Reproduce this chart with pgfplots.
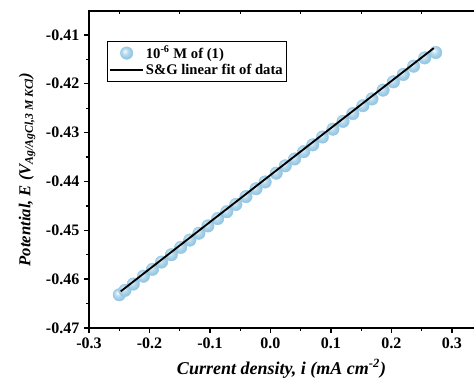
\documentclass[border=0pt]{standalone}
\usepackage{pgfplots}
\pgfplotsset{compat=1.18}
\usepackage{fontspec}
\setmainfont{Liberation Serif}
\definecolor{ballblue}{RGB}{150,200,228}
\makeatletter
\pgfdeclareradialshading[tikz@ball]{ball}{\pgfqpoint{-8bp}{8bp}}{%
 color(0bp)=(tikz@ball!0!white);
 color(6bp)=(tikz@ball!40!white);
 color(14bp)=(tikz@ball!75!white);
 color(24bp)=(tikz@ball);
 color(50bp)=(tikz@ball!92!black)}
\makeatother
\pgfplotsset{
 ballleg/.style={legend image code/.code={\draw[mark repeat=2,mark phase=2,##1] plot coordinates {(0cm,0cm) (0.43cm,0cm) (0.86cm,0cm)};}},
 lineleg/.style={legend image code/.code={\draw[##1] (0cm,0cm) -- (0.86cm,0cm);}},
}
\begin{document}
\begin{tikzpicture}
\begin{axis}[
 name=main,
 scale only axis,
 clip mode=individual,
 width=288.75pt, height=237.75pt,
 xmin=-0.3, xmax=0.3365,
 ymin=-0.47, ymax=-0.4051,
 axis x line*=bottom, axis y line*=left,
 axis line style={line width=1.2pt, line cap=rect},
 xtick={-0.3,-0.2,-0.1,0,0.1,0.2,0.3},
 ytick={-0.47,-0.46,-0.45,-0.44,-0.43,-0.42,-0.41},
 minor tick num=1,
 tick align=outside,
 major tick length=3.75pt, minor tick length=2.25pt,
 every tick/.style={line width=1pt, black},
 /pgf/number format/assume math mode=true,
 xticklabel style={/pgf/number format/.cd, fixed, fixed zerofill, precision=1},
 yticklabel style={/pgf/number format/.cd, fixed, fixed zerofill, precision=2},
 tick label style={font=\fontsize{12}{14}\selectfont\bfseries},
 xlabel={Current density, \textit{i} (mA cm\textsuperscript{-2})},
 ylabel={Potential, \textit{E} (V\textsubscript{Ag/AgCl,3 M KCl})},
 xlabel style={font=\fontsize{13.5}{15}\selectfont\bfseries\itshape, yshift=-1pt},
 ylabel style={font=\fontsize{12.5}{14}\selectfont\bfseries\itshape, yshift=1pt},
 legend style={at={(axis description cs:0,1)}, anchor=north west,
   xshift=13.5pt, yshift=-22.5pt, draw=black, line width=0.6pt,
   font=\fontsize{11}{13}\selectfont\bfseries, inner sep=1.5pt,
   nodes={inner xsep=1.5pt},
   row sep=-1pt, cells={anchor=west}},
 legend cell align=left,
]
\addplot[only marks, mark=ball, mark size=4.7pt,
 mark options={ball color=ballblue, draw=ballblue, line width=0.3pt}, ballleg]
 coordinates {
 (-0.2500,-0.4632) (-0.2405,-0.4623) (-0.2267,-0.4610) (-0.2100,-0.4594)
 (-0.1950,-0.4580) (-0.1800,-0.4565) (-0.1638,-0.4550) (-0.1483,-0.4535)
 (-0.1333,-0.4520) (-0.1183,-0.4506) (-0.1033,-0.4491) (-0.0872,-0.4476)
 (-0.0722,-0.4462) (-0.0572,-0.4447) (-0.0405,-0.4431) (-0.0238,-0.4415)
 (-0.0088,-0.4401) (0.0095,-0.4383) (0.0245,-0.4368) (0.0400,-0.4354)
 (0.0550,-0.4339) (0.0700,-0.4325) (0.0862,-0.4309) (0.1033,-0.4293)
 (0.1200,-0.4277) (0.1362,-0.4261) (0.1528,-0.4245) (0.1678,-0.4231)
 (0.1862,-0.4213) (0.2033,-0.4196) (0.2195,-0.4181) (0.2367,-0.4164)
 (0.2550,-0.4147) (0.2733,-0.4136)
 };
\addlegendentry{10\textsuperscript{-6} M of (1)}
\addplot[black, line width=1.4pt, lineleg]
 coordinates {(-0.2475,-0.4625) (0.2700,-0.4127)};
\addlegendentry{S\&G linear fit of data}
\end{axis}
\begin{axis}[
 at={(main.south west)}, anchor=south west,
 scale only axis,
 width=288.75pt, height=237.75pt,
 xmin=-0.3, xmax=0.3365,
 ymin=-0.47, ymax=-0.4051,
 axis x line*=top, axis y line=none,
 axis line style={line width=1.2pt, line cap=rect},
 xtick={-0.25,-0.15,-0.05,0.05,0.15,0.25},
 xticklabels={},
 minor tick num=0,
 tick align=inside,
 major tick length=2.25pt,
 every tick/.style={line width=1pt, black},
]
\end{axis}
\pgfresetboundingbox
\path ([xshift=-66.75pt,yshift=8.25pt]main.north west) rectangle ([yshift=-45pt]main.south east);
\end{tikzpicture}
\end{document}
